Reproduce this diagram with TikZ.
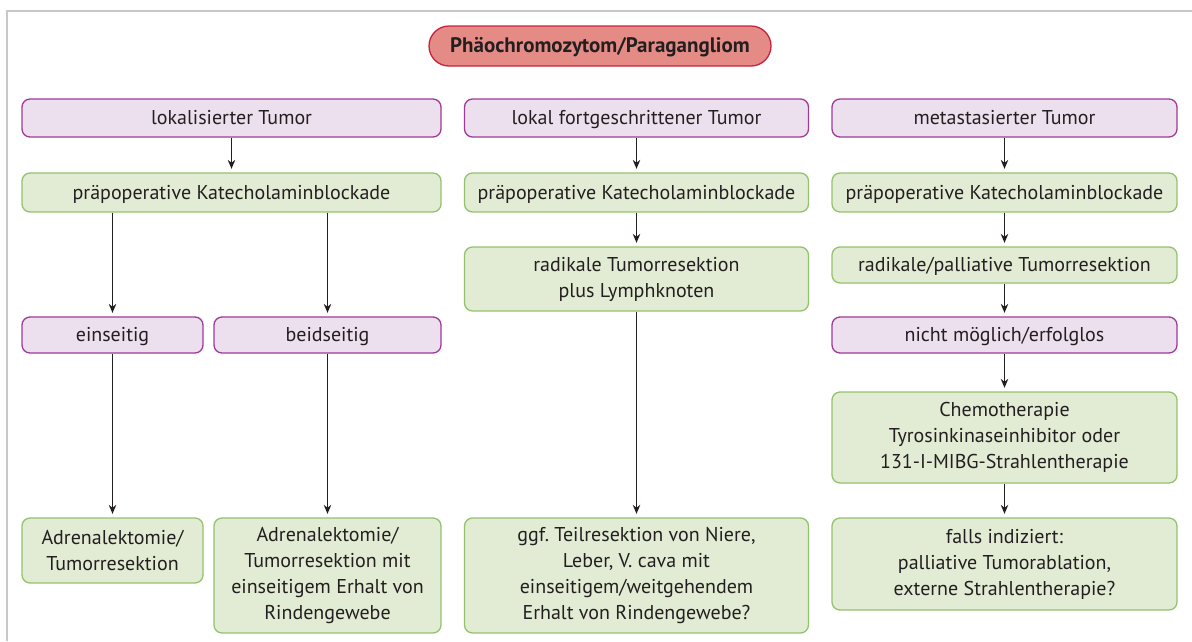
\documentclass[tikz,border=0pt]{standalone}
\usepackage{fontspec}
\setmainfont{PT Sans}
\usetikzlibrary{arrows.meta}
\frenchspacing
\definecolor{ink}{RGB}{35,31,32}
\definecolor{purplefill}{RGB}{237,224,238}
\definecolor{purpleline}{RGB}{160,58,150}
\definecolor{greenfill}{RGB}{226,236,212}
\definecolor{greenline}{RGB}{148,194,108}
\definecolor{titlefill}{RGB}{229,139,134}
\definecolor{titleline}{RGB}{200,32,62}
\definecolor{framegray}{RGB}{200,200,200}
\tikzset{
  box/.style={rectangle, rounded corners=8pt, line width=1.3pt, inner sep=0pt,
    text=ink, align=center, font=\fontsize{20}{26}\selectfont},
  oneline/.style={text height=16pt, text depth=3pt},
  pbox/.style={box, oneline, draw=purpleline, fill=purplefill},
  gbox/.style={box, draw=greenline, fill=greenfill},
  titlebox/.style={rectangle, rounded corners=20pt, line width=1.3pt, inner sep=0pt,
    draw=titleline, fill=titlefill, text=ink, oneline,
    font=\fontsize{21}{26}\selectfont\bfseries},
  arr/.style={draw=ink, line width=1.1pt, -{Stealth[length=9pt,width=7.5pt]}, shorten >=3.5pt}
}
\begin{document}
\frenchspacing
\begin{tikzpicture}[x=1pt,y=-1pt]
\useasboundingbox (0,0) rectangle (1192,641);
% outer frame (top and left edges)
\draw[framegray, line width=2.4pt] (7,641) -- (7,11) -- (1192,11);

% title
\node[titlebox, minimum width=342, minimum height=40] (title) at (600,46) {Phäochromozytom/Paragangliom};

% left column
\node[pbox, minimum width=419, minimum height=38] (l1) at (231.5,118) {lokalisierter Tumor};
\node[gbox, oneline, minimum width=419, minimum height=39] (l2) at (231.5,192.5) {präpoperative Katecholaminblockade};
\node[pbox, minimum width=181, minimum height=36] (le) at (112.5,335) {einseitig};
\node[pbox, minimum width=227, minimum height=36] (lb) at (327.5,335) {beidseitig};
\node[gbox, minimum width=181, minimum height=65] (lea) at (112.5,550.5) {Adrenalektomie/\\Tumorresektion};
\node[gbox, minimum width=227, minimum height=115] (lba) at (327.5,575.5) {Adrenalektomie/\\Tumorresektion mit\\einseitigem Erhalt von\\Rindengewebe};

% middle column
\node[pbox, minimum width=344, minimum height=38] (m1) at (636.5,118) {lokal fortgeschrittener Tumor};
\node[gbox, oneline, minimum width=344, minimum height=39] (m2) at (636.5,192.5) {präpoperative Katecholaminblockade};
\node[gbox, minimum width=344, minimum height=64] (m3) at (636.5,279) {radikale Tumorresektion\\plus Lymphknoten};
\node[gbox, minimum width=344, minimum height=115] (m4) at (636.5,575.5) {ggf. Teilresektion von Niere,\\Leber, V. cava mit\\einseitigem/weitgehendem\\Erhalt von Rindengewebe?};

% right column
\node[pbox, minimum width=345, minimum height=38] (r1) at (1004.5,118) {metastasierter Tumor};
\node[gbox, oneline, minimum width=345, minimum height=39] (r2) at (1004.5,192.5) {präpoperative Katecholaminblockade};
\node[gbox, oneline, minimum width=345, minimum height=36] (r3) at (1004.5,265) {radikale/palliative Tumorresektion};
\node[pbox, minimum width=345, minimum height=36] (r4) at (1004.5,335) {nicht möglich/erfolglos};
\node[gbox, minimum width=345, minimum height=91] (r5) at (1004.5,437.5) {Chemotherapie\\Tyrosinkinaseinhibitor oder\\131-I-MIBG-Strahlentherapie};
\node[gbox, minimum width=345, minimum height=92] (r6) at (1004.5,564) {falls indiziert:\\palliative Tumorablation,\\externe Strahlentherapie?};

% connectors
\draw[arr] (l1) -- (l2);
\draw[arr] (l2.south -| le.north) -- (le.north);
\draw[arr] (l2.south -| lb.north) -- (lb.north);
\draw[arr] (le) -- (lea);
\draw[arr] (lb) -- (lba);
\draw[arr] (m1) -- (m2);
\draw[arr] (m2) -- (m3);
\draw[arr] (m3) -- (m4);
\draw[arr] (r1) -- (r2);
\draw[arr] (r2) -- (r3);
\draw[arr] (r3) -- (r4);
\draw[arr] (r4) -- (r5);
\draw[arr] (r5) -- (r6);
\end{tikzpicture}
\end{document}
